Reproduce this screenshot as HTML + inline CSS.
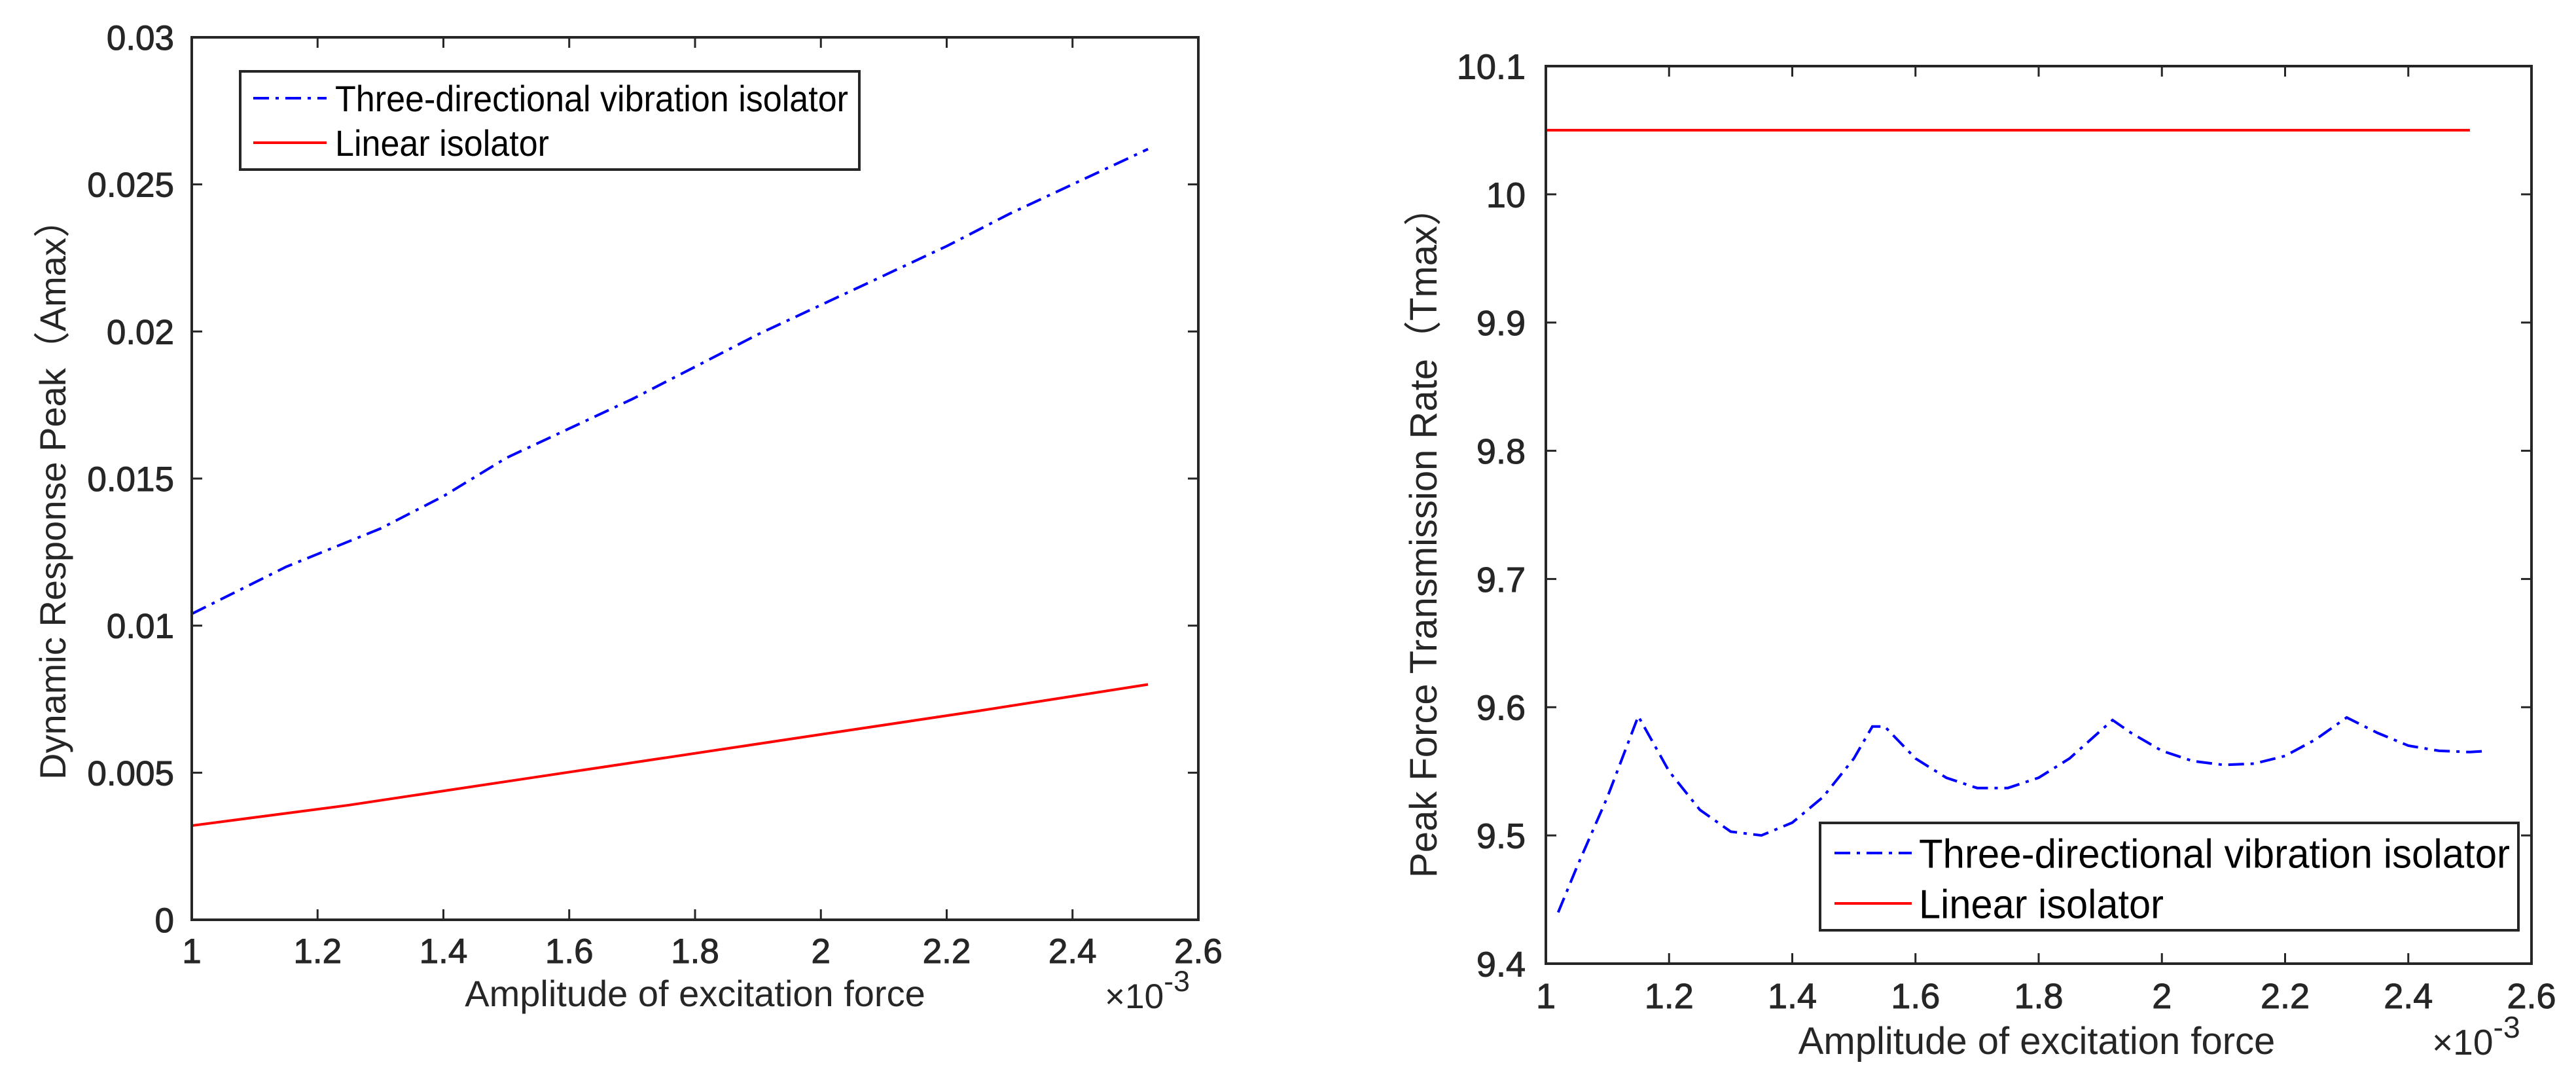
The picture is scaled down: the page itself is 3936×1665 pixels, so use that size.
<!DOCTYPE html>
<html><head><meta charset="utf-8"><style>
html,body{margin:0;padding:0;background:#fff;}
svg{display:block;font-family:"Liberation Sans",Arial,sans-serif;}
</style></head><body>
<svg id="fig" width="3936" height="1665" viewBox="0 0 3936 1665" xmlns="http://www.w3.org/2000/svg"></svg>
<script>
// Left chart data
const leftXTicks = [1,1.2,1.4,1.6,1.8,2,2.2,2.4,2.6];
const leftXTickLabels = ["1","1.2","1.4","1.6","1.8","2","2.2","2.4","2.6"];
const leftYTicks = [0,0.005,0.01,0.015,0.02,0.025,0.03];
const leftYTickLabels = ["0","0.005","0.01","0.015","0.02","0.025","0.03"];
const leftBlueX = [1.0,1.15,1.3,1.4,1.5,1.6,1.7,1.8,1.9,2.0,2.1,2.2,2.3,2.4,2.52];
const leftBlueY = [0.0104,0.0120,0.0133,0.0144,0.0157,0.0167,0.0177,0.0188,0.0199,0.0209,0.0219,0.0229,0.0240,0.0250,0.0262];
const leftRedX = [1.0,1.25,1.5,1.75,2.0,2.25,2.52];
const leftRedY = [0.0032,0.0039,0.0047,0.0055,0.0063,0.0071,0.0080];
// Right chart data
const rightXTicks = [1,1.2,1.4,1.6,1.8,2,2.2,2.4,2.6];
const rightXTickLabels = ["1","1.2","1.4","1.6","1.8","2","2.2","2.4","2.6"];
const rightYTicks = [9.4,9.5,9.6,9.7,9.8,9.9,10,10.1];
const rightYTickLabels = ["9.4","9.5","9.6","9.7","9.8","9.9","10","10.1"];
const rightBlueX = [1.02,1.05,1.1,1.15,1.2,1.25,1.3,1.35,1.4,1.45,1.5,1.53,1.55,1.6,1.65,1.7,1.75,1.8,1.85,1.92,1.95,2.0,2.05,2.1,2.15,2.2,2.25,2.3,2.35,2.4,2.45,2.5,2.53];
const rightBlueY = [9.44,9.475,9.53,9.593,9.55,9.52,9.503,9.5,9.51,9.53,9.56,9.585,9.585,9.56,9.545,9.537,9.537,9.545,9.56,9.59,9.58,9.566,9.558,9.555,9.556,9.562,9.575,9.592,9.58,9.57,9.566,9.565,9.566];
const rightRedX = [1.0,2.5];
const rightRedY = [10.05,10.05];

const NS="http://www.w3.org/2000/svg";
const svg=document.getElementById('fig');
function mk(tag,attrs,parent){const e=document.createElementNS(NS,tag);for(const k in attrs)e.setAttribute(k,attrs[k]);(parent||svg).appendChild(e);return e;}

function chart(cfg){
  const g=mk('g',{});
  
  
  const sx=v=>cfg.x0+(v-cfg.xmin)/(cfg.xmax-cfg.xmin)*(cfg.x1-cfg.x0);
  const sy=v=>cfg.y1-(v-cfg.ymin)/(cfg.ymax-cfg.ymin)*(cfg.y1-cfg.y0);
  function series(xs,ys,color,dash,nm){
    const p=xs.map((x,i)=>sx(x).toFixed(1)+','+sy(ys[i]).toFixed(1)).join(' ');
    const l=mk('polyline',{points:p,fill:'none',stroke:color,'stroke-width':4,'stroke-dasharray':dash||'none'},g);
    
    
  }
  series(cfg.bx,cfg.by,'#0000ff','24,10,5,10','three-directional-line');
  series(cfg.rx,cfg.ry,'#ff0000',null,'linear-isolator-line');
  const box=mk('rect',{x:cfg.x0,y:cfg.y0,width:cfg.x1-cfg.x0,height:cfg.y1-cfg.y0,fill:'none',stroke:'#262626','stroke-width':4},g);
  
  
  const T=16;
  cfg.xt.forEach((v,i)=>{
    const x=sx(v);
    mk('line',{x1:x,y1:cfg.y1,x2:x,y2:cfg.y1-T,stroke:'#262626','stroke-width':3},g);
    mk('line',{x1:x,y1:cfg.y0,x2:x,y2:cfg.y0+T,stroke:'#262626','stroke-width':3},g);
    const t=mk('text',{x:x,y:cfg.xlY,'font-size':cfg.fs,'text-anchor':'middle',fill:'#262626',stroke:'#262626','stroke-width':1},g);
    t.textContent=cfg.xtl[i];
    
    
  });
  cfg.yt.forEach((v,i)=>{
    const y=sy(v);
    mk('line',{x1:cfg.x0,y1:y,x2:cfg.x0+T,y2:y,stroke:'#262626','stroke-width':3},g);
    mk('line',{x1:cfg.x1,y1:y,x2:cfg.x1-T,y2:y,stroke:'#262626','stroke-width':3},g);
    const t=mk('text',{x:cfg.ylX,y:y+cfg.fs*0.36,'font-size':cfg.fs,'text-anchor':'end',fill:'#262626',stroke:'#262626','stroke-width':1},g);
    t.textContent=cfg.ytl[i];
    
    
  });
  const xt=mk('text',{x:cfg.xtitle[0],y:cfg.xtitle[1],'font-size':cfg.tfs,'text-anchor':'middle',fill:'#262626'},g);
  xt.textContent='Amplitude of excitation force';
  
  
  const yt=mk('text',{x:0,y:0,'font-size':cfg.tfs,'text-anchor':'middle',fill:'#262626',transform:`translate(${cfg.ytitle[0]},${cfg.ytitle[1]}) rotate(-90)`},g);
  yt.textContent=cfg.ytitleText;
  
  
  const ex=mk('text',{x:cfg.exp[0],y:cfg.exp[1],'font-size':cfg.tfs*0.95,fill:'#262626'},g);
  ex.innerHTML='×10<tspan dy="-26" font-size="'+(cfg.tfs*0.8)+'">-3</tspan>';
  
  
  const L=cfg.leg;
  const lg=mk('g',{},g);
  
  
  mk('rect',{x:L.x,y:L.y,width:L.w,height:L.h,fill:'#fff',stroke:'#262626','stroke-width':4},lg);
  const rows=[['Three-directional vibration isolator','#0000ff','24,10,5,10',L.r1,L.tw1],['Linear isolator','#ff0000','none',L.r2,L.tw2]];
  rows.forEach(r=>{
    const e=mk('g',{},lg);
    
    
    mk('line',{x1:L.x+L.lx1,y1:r[3],x2:L.x+L.lx2,y2:r[3],stroke:r[1],'stroke-width':4,'stroke-dasharray':r[2]},e);
    const t=mk('text',{x:L.x+L.tx,y:r[3]+L.fs*0.36,'font-size':L.fs,fill:'#000',textLength:r[4],lengthAdjust:'spacingAndGlyphs'},e);
    t.textContent=r[0];
  });
}

chart({name:'left-chart',x0:293,x1:1831,y0:57,y1:1405,xmin:1,xmax:2.6,ymin:0,ymax:0.03,
  xt:leftXTicks,xtl:leftXTickLabels,yt:leftYTicks,ytl:leftYTickLabels,
  bx:leftBlueX,by:leftBlueY,rx:leftRedX,ry:leftRedY,fs:53,tfs:56,xlY:1471,ylX:266,
  xtitle:[1062,1537],ytitle:[100,749],ytitleText:'Dynamic Response Peak（Amax）',exp:[1688,1540],
  leg:{x:367,y:109,w:946,h:150,r1:150,r2:218,lx1:20,lx2:132,tx:145,fs:56,tw1:784,tw2:327}});

chart({name:'right-chart',x0:2362,x1:3868,y0:101,y1:1472,xmin:1,xmax:2.6,ymin:9.4,ymax:10.1,
  xt:rightXTicks,xtl:rightXTickLabels,yt:rightYTicks,ytl:rightYTickLabels,
  bx:rightBlueX,by:rightBlueY,rx:rightRedX,ry:rightRedY,fs:54,tfs:58,xlY:1540,ylX:2331,
  xtitle:[3112,1610],ytitle:[2195,814],ytitleText:'Peak Force Transmission Rate（Tmax）',exp:[3716,1611],
  leg:{x:2781,y:1257,w:1067,h:164,r1:1303,r2:1380,lx1:22,lx2:140,tx:151,fs:62,tw1:903,tw2:374}});
</script>
</body></html>
